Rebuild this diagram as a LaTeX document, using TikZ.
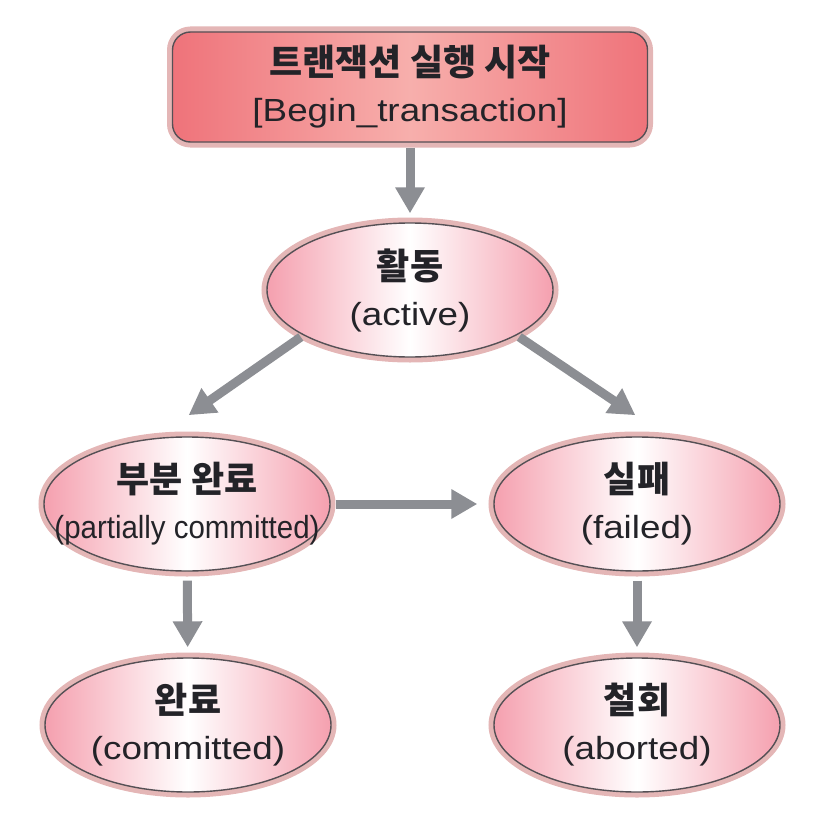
\documentclass[tikz,border=0pt]{standalone}
\usepackage{fontspec}
\usepackage{xcolor}
\usepackage{graphicx}
\usepackage{tikz}
\usetikzlibrary{calc}
\usetikzlibrary{arrows.meta}
\usetikzlibrary{shapes.geometric}
\setmainfont{Liberation Sans}
\newfontfamily\kofont{Noto Sans CJK KR}
\newfontfamily\enfont{Liberation Sans}[FakeStretch=1.15]
\definecolor{boxred}{RGB}{239,115,122}
\definecolor{boxmid}{RGB}{247,175,172}
\definecolor{ellpink}{RGB}{245,160,175}
\definecolor{haloc}{RGB}{228,182,182}
\definecolor{rimc}{RGB}{85,80,85}
\definecolor{arrowc}{RGB}{140,142,147}
\definecolor{txtc}{RGB}{35,35,40}
\newcommand{\kline}[1]{{\kofont\bfseries\fontsize{36}{46}\selectfont #1}}
\newcommand{\eline}[1]{{\enfont\fontsize{32}{46}\selectfont #1}}
\tikzstyle{every node}=[font=\fontsize{30}{46}\selectfont, text=txtc, align=center]
\tikzstyle{state}=[ellipse, minimum width=286pt, minimum height=134pt, inner sep=0pt, left color=ellpink, right color=ellpink, middle color=white, draw=rimc, line width=1.4pt, preaction={draw=haloc, line width=11pt}]
\tikzstyle{startbox}=[rectangle, rounded corners=18pt, minimum width=475pt, minimum height=110pt, inner sep=0pt, left color=boxred, right color=boxred, middle color=boxmid, draw=rimc, line width=1.4pt, preaction={draw=haloc, line width=11pt}]
\tikzstyle{flow}=[draw=arrowc, line width=9pt, -{Triangle[width=28pt,length=26pt]}]

\begin{document}
\begin{tikzpicture}[x=1pt,y=-1pt]
                    \useasboundingbox (0,0) rectangle (830,832);

                    \node[startbox] (start) at (410,87) {\kline{트랜잭션 실행 시작}\\\eline{[Begin\_transaction]}};
                    \node[state] (act) at (410,290) {\kline{활동}\\\eline{(active)}};
                    \node[state] (part) at (187,504) {\kline{부분 완료}\\\eline{\makebox[180pt][c]{\scalebox{0.8}[1]{(partially committed)}}}};
                    \node[state] (fail) at (637,504) {\kline{실패}\\\eline{(failed)}};
                    \node[state] (comm) at (188,725) {\kline{완료}\\\eline{(committed)}};
                    \node[state] (abort) at (637,725) {\kline{철회}\\\eline{(aborted)}};

                    \draw[flow, shorten <=5pt, shorten >=9pt] (start) -- (act);
                    \draw[flow, shorten <=3pt, shorten >=2pt] (act.203) -- ([yshift=20pt]part.north);
                    \draw[flow, shorten <=3pt, shorten >=2pt] (act.-23) -- ([yshift=20pt]fail.north);
                    \draw[flow, shorten <=5pt, shorten >=16pt] (part) -- (fail);
                    \draw[flow, shorten <=9pt, shorten >=10pt] (part) -- (comm);
                    \draw[flow, shorten <=9pt, shorten >=10pt] (fail) -- (abort);
\end{tikzpicture}
\end{document}
